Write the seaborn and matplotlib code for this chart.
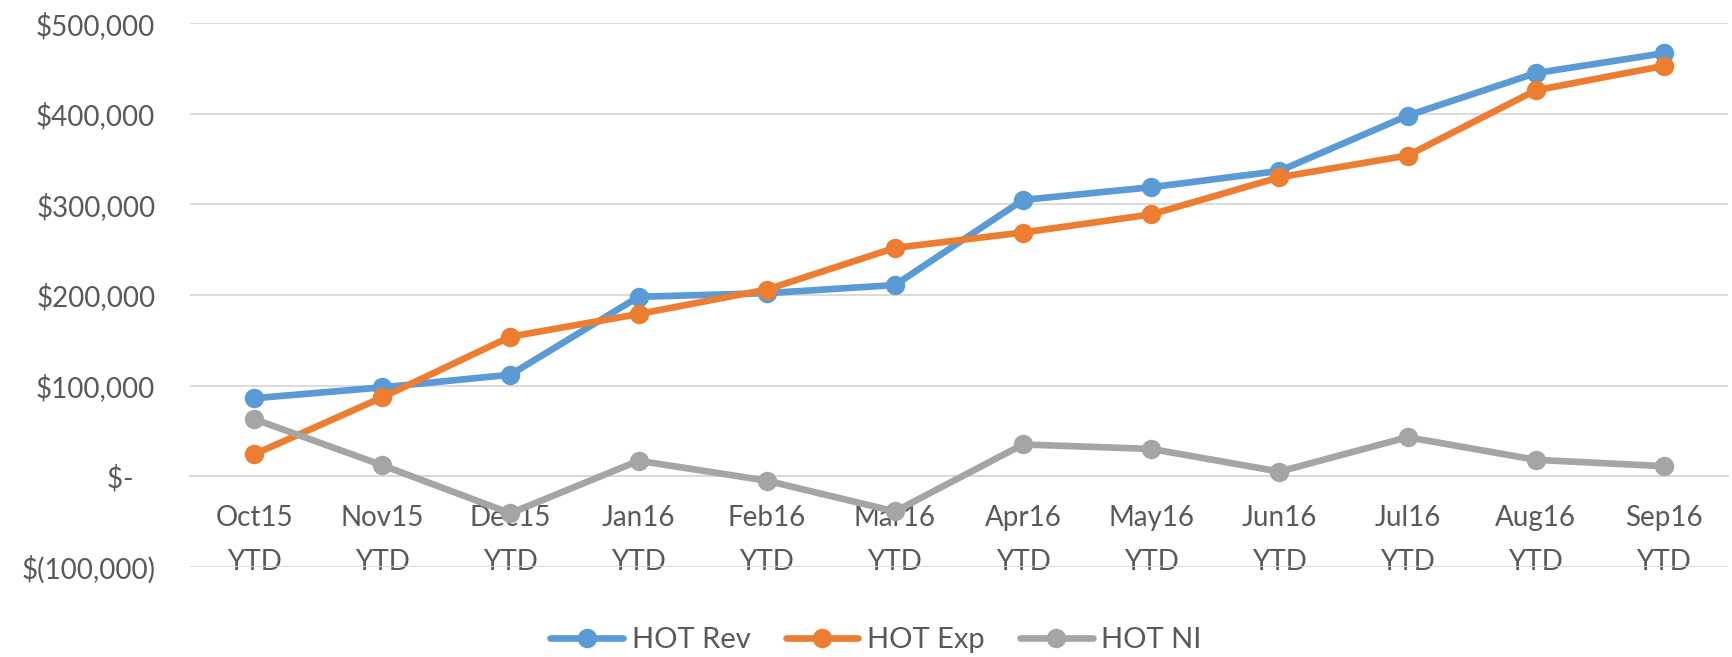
import matplotlib
matplotlib.use("Agg")
import matplotlib.pyplot as plt
import seaborn as sns
import pandas as pd

# ---- data ----
categories = ["Oct15\nYTD", "Nov15\nYTD", "Dec15\nYTD", "Jan16\nYTD", "Feb16\nYTD", "Mar16\nYTD",
              "Apr16\nYTD", "May16\nYTD", "Jun16\nYTD", "Jul16\nYTD", "Aug16\nYTD", "Sep16\nYTD"]
hot_rev = [86000, 98000, 112000, 198000, 202000, 211000, 305000, 319000, 337000, 398000, 445000, 467000]
hot_exp = [24000, 87000, 154000, 179000, 206000, 252000, 269000, 289000, 330000, 354000, 426000, 453000]
hot_ni = [63000, 12000, -41000, 17000, -5000, -39000, 35000, 30000, 5000, 43000, 18000, 11000]
series_names = ["HOT Rev", "HOT Exp", "HOT NI"]
y_ticks = [-100000, 0, 100000, 200000, 300000, 400000, 500000]
y_ticklabels = ["$(100,000)", "$-   ", "$100,000", "$200,000", "$300,000", "$400,000", "$500,000"]

colors = ["#5B9BD5", "#ED7D31", "#A5A5A5"]
text_color = "#595959"

sns.set_theme(style="white")
plt.rcParams['font.family'] = ['Lato', 'DejaVu Sans']

fig = plt.figure(figsize=(17.33, 6.57), dpi=100)
ax = fig.add_axes([190 / 1733, (657 - 566.7) / 657, (1728 - 190) / 1733, (566.7 - 23.3) / 657])

x = list(range(len(categories)))
for vals, name, col in zip([hot_rev, hot_exp, hot_ni], series_names, colors):
    df = pd.DataFrame({"x": x, "y": vals})
    sns.lineplot(data=df, x="x", y="y", ax=ax, color=col, linewidth=4.8,
                 marker="o", markersize=14, markeredgewidth=0, label=name,
                 solid_capstyle="round", zorder=3)

# axes styling
ax.set_xlim(-0.5, len(categories) - 0.5)
ax.set_ylim(-100000, 500000)
ax.set_yticks(y_ticks)
ax.set_yticklabels(y_ticklabels)
ax.set_xticks(x)
ax.set_xticklabels(categories)
ax.grid(axis="y", color="#D9D9D9", linewidth=1.3, zorder=0)
ax.grid(axis="x", visible=False)
for s in ["top", "right", "left"]:
    ax.spines[s].set_visible(False)
ax.spines["bottom"].set_position(("data", 0))
ax.spines["bottom"].set_color("#D9D9D9")
ax.spines["bottom"].set_linewidth(1.3)
ax.spines["bottom"].set_zorder(0)
ax.tick_params(axis="y", length=0, pad=25, labelsize=20, labelcolor=text_color)
ax.tick_params(axis="x", length=0, pad=21, labelsize=20, labelcolor=text_color)
ax.set_xlabel("")
ax.set_ylabel("")
for t in ax.xaxis.get_major_ticks():
    t.label1.set_linespacing(1.82)

leg = ax.legend(loc="center", bbox_to_anchor=(876 / 1733, (657 - 640) / 657),
                bbox_transform=fig.transFigure, ncol=3, frameon=False,
                fontsize=21, handlelength=2.5, columnspacing=1.2, handletextpad=0.3,
                labelcolor=text_color)
for h in leg.legend_handles:
    h.set_linewidth(4.8)

fig.savefig("out.png", dpi=100)
